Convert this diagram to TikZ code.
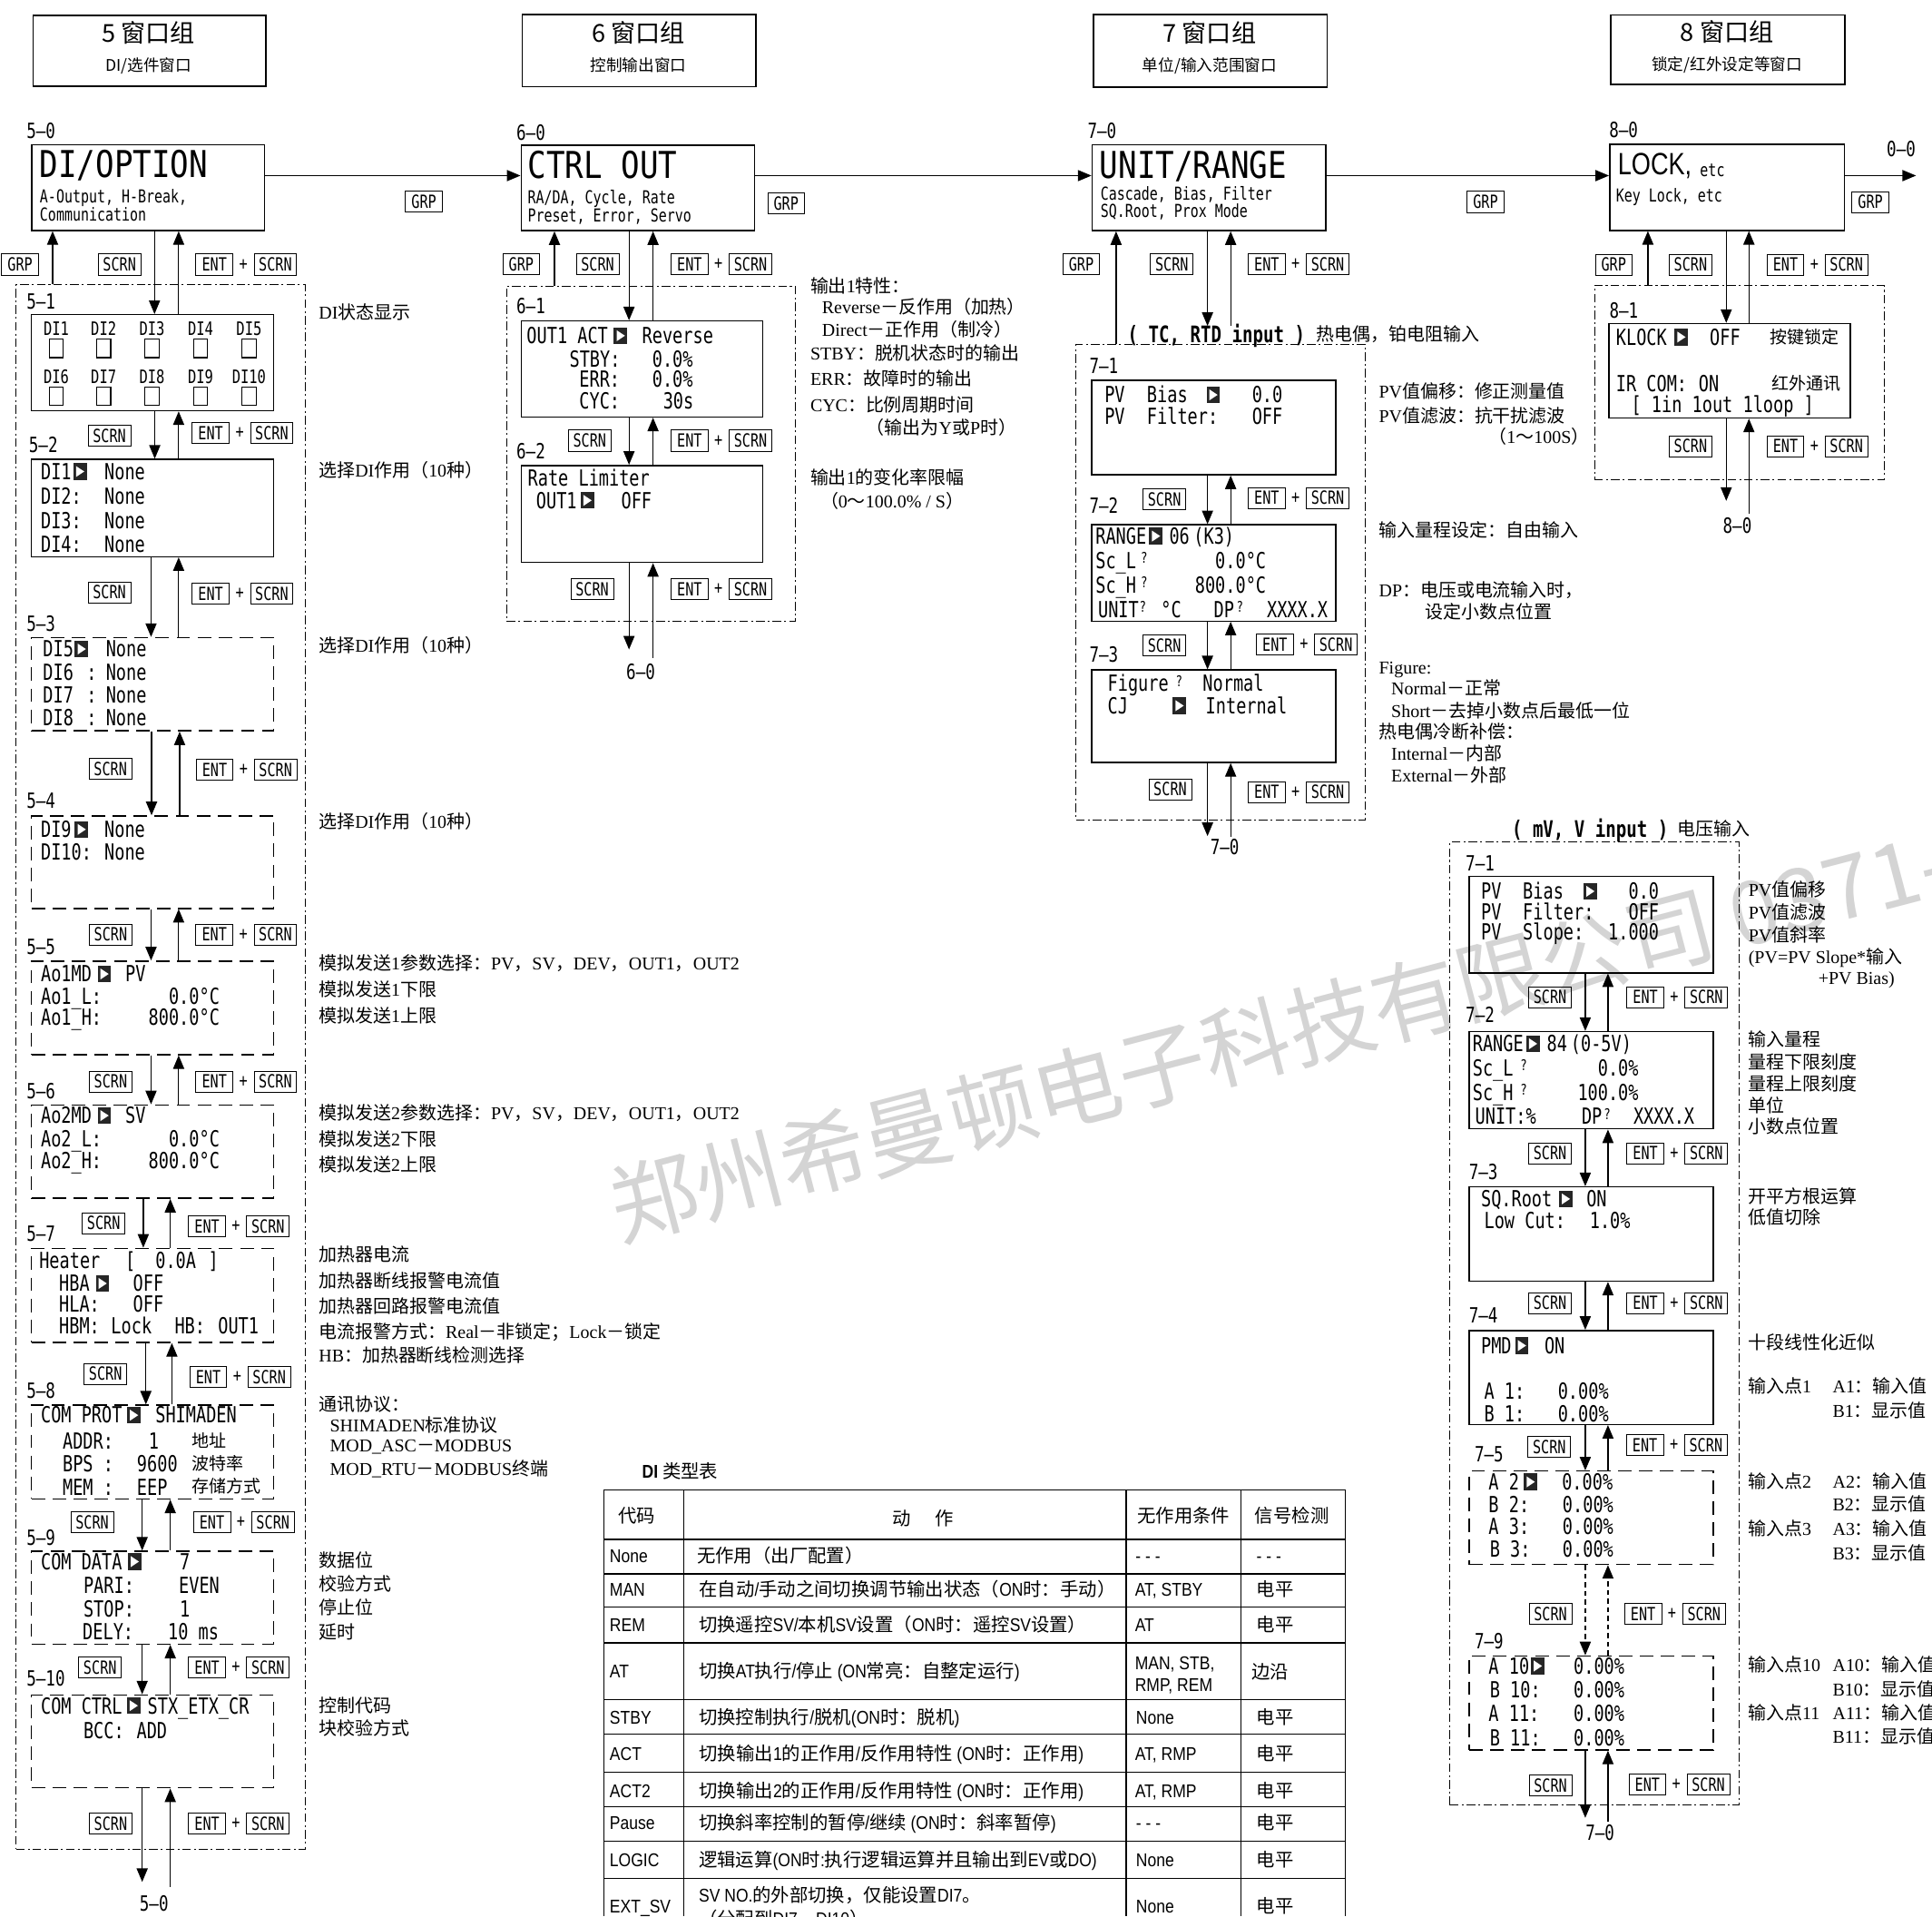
\documentclass[tikz,border=0pt]{standalone}
\usepackage{fontspec}
\usetikzlibrary{arrows.meta,calc}
\newfontfamily\mono[FakeStretch=0.76]{DejaVu Sans Mono}
\newfontfamily\monob[FakeStretch=0.84]{DejaVu Sans Mono}
\newfontfamily\cjk{Noto Sans CJK SC}
\newfontfamily\latf{Liberation Serif}
\newfontfamily\tabl[FakeStretch=0.86]{Liberation Sans}
\newfontfamily\lockf[FakeStretch=0.8]{Liberation Sans}
\newif\ifautosw
\def\curlat{\latf}
\newcommand\swcjk{\ifautosw\cjk\fi}
\newcommand\swlat{\ifautosw\curlat\fi}
\newcount\cc
\cc="3000 \loop\ifnum\cc<"3040 \XeTeXcharclass\cc=5 \advance\cc by 1 \repeat
\cc="4E00 \loop\ifnum\cc<"A000 \XeTeXcharclass\cc=5 \advance\cc by 1 \repeat
\cc="FF00 \loop\ifnum\cc<"FFF0 \XeTeXcharclass\cc=5 \advance\cc by 1 \repeat
\XeTeXinterchartokenstate=1
\XeTeXinterchartoks 0 5 = {\swcjk}
\XeTeXinterchartoks 4095 5 = {\swcjk}
\XeTeXinterchartoks 5 0 = {\swlat}
\XeTeXinterchartoks 4095 0 = {\swlat}

\tikzset{
 xbox/.style={draw,line width=1.1pt,anchor=north west,inner sep=0pt},
 xdbox/.style={xbox,dash pattern=on 11pt off 6pt},
 xcont/.style={draw,line width=0.6pt,dash pattern=on 7pt off 2.5pt on 1.5pt off 2.5pt,anchor=north west,inner sep=0pt},
 xarr/.style={line width=0.9pt,-{Triangle[length=11pt,width=9pt]}},
 xkey/.style={draw,line width=0.6pt,font=\mono\fontsize{14.7}{14.7}\selectfont,inner xsep=3.8pt,inner ysep=0pt,text height=10.7pt,text depth=0pt,minimum height=17pt,minimum width=30pt},
 xplus/.style={inner sep=0pt,font=\mono\fontsize{14.7}{14.7}\selectfont},
 xlcd/.style={anchor=west,inner sep=0pt,font=\mono\fontsize{18}{18}\selectfont,text height=13pt,text depth=0pt},
 xlcdr/.style={xlcd,anchor=east},
 xq/.style={anchor=west,inner sep=0pt,font=\mono\fontsize{12}{12}\selectfont,text height=8.7pt,text depth=0pt},
 xlab/.style={anchor=west,inner sep=0pt,font=\mono\fontsize{17}{17}\selectfont,text height=12.4pt,text depth=0pt},
 xlabc/.style={xlab,anchor=center},
 xdil/.style={anchor=center,inner sep=0pt,font=\mono\fontsize{15}{15}\selectfont,text height=10.9pt,text depth=0pt},
 xsub/.style={anchor=west,inner sep=0pt,font=\mono\fontsize{14.5}{14.5}\selectfont,text height=10.6pt,text depth=0pt},
 xbig/.style={anchor=west,inner sep=0pt,font=\monob\fontsize{30}{30}\selectfont,text height=21.9pt,text depth=0pt},
 xlock/.style={anchor=west,inner sep=0pt,font=\lockf\fontsize{25}{25}\selectfont,text height=17.9pt,text depth=0pt},
 xtc/.style={anchor=west,inner sep=0pt,font=\mono\bfseries\fontsize{18.5}{18.5}\selectfont,text height=13.5pt,text depth=0pt},
 xann/.style={anchor=west,inner sep=0pt,font={\autoswtrue\def\curlat{\latf}\fontsize{14.7}{14.7}\latf},text height=10.5pt,text depth=0pt},
 xcj/.style={anchor=west,inner sep=0pt,font=\cjk\fontsize{14}{14}\selectfont,text height=10pt,text depth=0pt},
 xtab/.style={anchor=west,inner sep=0pt,font={\autoswtrue\def\curlat{\tabl}\fontsize{15}{15}\tabl},text height=10.7pt,text depth=0pt},
 xtabc/.style={xtab,anchor=center},
 xhbox/.style={draw,line width=1.2pt,anchor=north west,inner sep=0pt},
 xhdrt/.style={inner sep=0pt,font=\cjk\fontsize{20}{20}\selectfont,text height=14.5pt,text depth=0pt},
 xhdrs/.style={inner sep=0pt,font=\cjk\fontsize{13}{13}\selectfont,text height=9.5pt,text depth=0pt},
 xsq/.style={draw,line width=0.9pt,minimum width=11.5pt,minimum height=15pt,inner sep=0pt},
 xtri/.style={fill=black!85,minimum width=11pt,minimum height=13.5pt,inner sep=0pt,anchor=west,
   path picture={\fill[white] ([shift={(2.3pt,-2.3pt)}]path picture bounding box.north west) -- ([shift={(2.3pt,2.3pt)}]path picture bounding box.south west) -- ([shift={(-2pt,0pt)}]path picture bounding box.east) -- cycle;}},
 xwm/.style={anchor=west,inner sep=0pt,rotate=14.65,text=black!17,font=\cjk\fontsize{71}{71}\selectfont},
}
\newcounter{nn}
\newcommand\Tn[4][xlcd]{\stepcounter{nn}\node[#1] (n\thenn) at (#2,#3) {#4};}
\newcommand\Mkr[2]{\stepcounter{nn}\node[xtri] (n\thenn) at (#1,#2) {};}
\newcommand\Ky[3]{\stepcounter{nn}\node[xkey] (n\thenn) at (#1,#2) {#3};}
\newcommand\EnS[2]{\Ky{#1}{#2}{ENT}\Tn[xplus]{#1+23.5}{#2}{+}\Ky{#1+49.5}{#2}{SCRN}}
\newcommand\ArD[4][]{\draw[xarr,#1] let \p1=(#2.south),\p2=(#3.north) in (#4pt,\y1) -- (#4pt,\y2);}
\newcommand\ArU[4][]{\draw[xarr,#1] let \p1=(#3.north),\p2=(#2.south) in (#4pt,\y1) -- (#4pt,\y2);}
\newcommand\ArDC[3]{\draw[xarr] let \p1=(#1.south) in (#3pt,\y1) -- (#2);}
\newcommand\ArUC[3]{\draw[xarr] let \p1=(#1.south) in (#2) -- (#3pt,\y1);}

\begin{document}
\begin{tikzpicture}[x=1pt,y=-1pt]
\fill[white] (0,0) rectangle (1568,1555);
\useasboundingbox (0,0) rectangle (1568,1555);
\node[xwm] (wm) at (496,981) {郑州希曼顿电子科技有限公司 0371-};

% ---------- headers
\node[xhbox,minimum width=188.7,minimum height=57.4] (h5) at (26.3,11.8) {};
\Tn[xhdrt]{120.6}{27}{5 窗口组}
\Tn[xhdrs]{120.6}{52.8}{DI/选件窗口}
\node[xhbox,minimum width=189.7,minimum height=58.3] (h6) at (423.3,11.4) {};
\Tn[xhdrt]{518.1}{26.8}{6 窗口组}
\Tn[xhdrs]{518.1}{52.9}{控制输出窗口}
\node[xhbox,minimum width=189.4,minimum height=58.8] (h7) at (887,11.2) {};
\Tn[xhdrt]{981.7}{26.8}{7 窗口组}
\Tn[xhdrs]{981.7}{52.7}{单位/输入范围窗口}
\node[xhbox,minimum width=190,minimum height=56.5] (h8) at (1306.7,11.6) {};
\Tn[xhdrt]{1401.7}{26}{8 窗口组}
\Tn[xhdrs]{1401.7}{52.6}{锁定/红外设定等窗口}

% ---------- main row
\node[xbox,minimum width=189,minimum height=69.7] (b50) at (25.3,116.8) {};
\node[xbox,minimum width=189.6,minimum height=69.3] (b60) at (422.4,117.3) {};
\node[xbox,minimum width=189.7,minimum height=69.6] (b70) at (885.8,117) {};
\node[xbox,minimum width=190.5,minimum height=69.7] (b80) at (1305.8,116.7) {};
\Tn[xlab]{21.4}{106.2}{5–0}
\Tn[xlab]{419}{107.8}{6–0}
\Tn[xlab]{882.5}{106}{7–0}
\Tn[xlab]{1305.8}{105.4}{8–0}
\Tn[xlabc]{1543}{120.7}{0–0}
\Tn[xbig]{32}{133}{DI/OPTION}
\Tn[xsub]{32.2}{159}{A-Output, H-Break,}
\Tn[xsub]{32.2}{174.3}{Communication}
\Tn[xbig]{428.2}{134}{CTRL OUT}
\Tn[xsub]{428.2}{160}{RA/DA, Cycle, Rate}
\Tn[xsub]{428.2}{175}{Preset, Error, Servo}
\Tn[xbig]{892.3}{133.9}{UNIT/RANGE}
\Tn[xsub]{893}{157}{Cascade, Bias, Filter}
\Tn[xsub]{893}{171}{SQ.Root, Prox Mode}
\Tn[xlock]{1312.8}{133}{LOCK,}
\Tn[xsub]{1379.6}{138}{etc}
\Tn[xsub]{1311.4}{158.3}{Key Lock, etc}
\coordinate (o00) at (1555,142.5);
\draw[xarr] let \p1=(b50.east),\p2=(b60.west) in (\x1,-142.5pt) -- (\x2,-142.5pt);
\draw[xarr] let \p1=(b60.east),\p2=(b70.west) in (\x1,-142.5pt) -- (\x2,-142.5pt);
\draw[xarr] let \p1=(b70.east),\p2=(b80.west) in (\x1,-142.5pt) -- (\x2,-142.5pt);
\draw[xarr] let \p1=(b80.east) in (\x1,-142.5pt) -- (o00);
\Ky{344}{163.7}{GRP}
\Ky{638}{165}{GRP}
\Ky{1205.6}{163.8}{GRP}
\Ky{1518}{164}{GRP}

% ---------- column 5
\node[xcont,minimum width=234.6,minimum height=1269.2] (c5) at (12.7,230.8) {};
\Ky{16.3}{214.6}{GRP}\Ky{97}{214.6}{SCRN}\EnS{174}{214.6}
\Tn[xlab]{21.4}{244.5}{5–1}
\node[xbox,minimum width=196.5,minimum height=77.9] (b51) at (25,254.8) {};
\Tn[xdil]{45.7}{266.4}{DI1}\Tn[xdil]{84.1}{266.4}{DI2}\Tn[xdil]{123.4}{266.4}{DI3}\Tn[xdil]{162.8}{266.4}{DI4}\Tn[xdil]{202.1}{266.4}{DI5}
\Tn[xsq]{45.7}{282.6}{}\Tn[xsq]{84.1}{282.6}{}\Tn[xsq]{123.4}{282.6}{}\Tn[xsq]{162.8}{282.6}{}\Tn[xsq]{202.1}{282.6}{}
\Tn[xdil]{45.7}{305.6}{DI6}\Tn[xdil]{84.1}{305.6}{DI7}\Tn[xdil]{123.4}{305.6}{DI8}\Tn[xdil]{162.8}{305.6}{DI9}\Tn[xdil]{202.1}{305.6}{DI10}
\Tn[xsq]{45.7}{321.6}{}\Tn[xsq]{84.1}{321.6}{}\Tn[xsq]{123.4}{321.6}{}\Tn[xsq]{162.8}{321.6}{}\Tn[xsq]{202.1}{321.6}{}

\Tn[xlab]{23.3}{360.6}{5–2}
\node[xbox,minimum width=196.5,minimum height=78.9] (b52) at (25,372.2) {};
\Tn{33}{382.6}{DI1}\Mkr{59.2}{382.6}\Tn{84.6}{382.6}{None}
\Tn{33}{402.7}{DI2:}\Tn{84.6}{402.7}{None}
\Tn{33}{422.5}{DI3:}\Tn{84.6}{422.5}{None}
\Tn{33}{441.8}{DI4:}\Tn{84.6}{441.8}{None}

\Tn[xlab]{21.4}{506}{5–3}
\node[xdbox,minimum width=196.5,minimum height=75.7] (b53) at (25,516.8) {};
\Tn{34.7}{526.6}{DI5}\Mkr{60.5}{526.6}\Tn{85.8}{526.6}{None}
\Tn{34.7}{545.7}{DI6}\Tn{70}{545.7}{:}\Tn{85.8}{545.7}{None}
\Tn{34.7}{563.9}{DI7}\Tn{70}{563.9}{:}\Tn{85.8}{563.9}{None}
\Tn{34.7}{582.6}{DI8}\Tn{70}{582.6}{:}\Tn{85.8}{582.6}{None}

\Tn[xlab]{21.4}{650}{5–4}
\node[xdbox,minimum width=196.5,minimum height=75] (b54) at (25,661.5) {};
\Tn{33}{673}{DI9}\Mkr{60.5}{673}\Tn{84.6}{673}{None}
\Tn{33}{691.6}{DI10:}\Tn{84.6}{691.6}{None}

\Tn[xlab]{21.4}{768.5}{5–5}
\node[xdbox,minimum width=196.5,minimum height=75.9] (b55) at (25,779.3) {};
\Tn{33}{790.3}{Ao1MD}\Mkr{79}{790.3}\Tn{101.5}{790.3}{PV}
\Tn{33}{808.3}{Ao1\_L:}\Tn[xlcdr]{178.4}{808.3}{0.0°C}
\Tn{33}{825.7}{Ao1\_H:}\Tn[xlcdr]{178.4}{825.7}{800.0°C}

\Tn[xlab]{21.4}{885}{5–6}
\node[xdbox,minimum width=196.5,minimum height=75.7] (b56) at (25,896) {};
\Tn{33}{905.2}{Ao2MD}\Mkr{79}{905.2}\Tn{101.5}{905.2}{SV}
\Tn{33}{924.1}{Ao2\_L:}\Tn[xlcdr]{178.4}{924.1}{0.0°C}
\Tn{33}{941.6}{Ao2\_H:}\Tn[xlcdr]{178.4}{941.6}{800.0°C}

\Tn[xlab]{21.4}{1001}{5–7}
\node[xdbox,minimum width=196.5,minimum height=76.3] (b57) at (25,1012.4) {};
\Tn{31.7}{1023.1}{Heater}\Tn{101.5}{1023.1}{[}\Tn{126}{1023.1}{0.0A}\Tn{169}{1023.1}{]}
\Tn{47.8}{1041.4}{HBA}\Mkr{77.5}{1041.4}\Tn{107.8}{1041.4}{OFF}
\Tn{47.8}{1058}{HLA:}\Tn{107.8}{1058}{OFF}
\Tn{47.8}{1075.5}{HBM:}\Tn{90}{1075.5}{Lock}\Tn{141.6}{1075.5}{HB:}\Tn{176.8}{1075.5}{OUT1}

\Tn[xlab]{21.4}{1128}{5–8}
\node[xdbox,minimum width=196.5,minimum height=76.1] (b58) at (25,1139.6) {};
\Tn{33}{1148.3}{COM PROT}\Mkr{103}{1148.3}\Tn{126}{1148.3}{SHIMADEN}
\Tn{50.7}{1169.2}{ADDR:}\Tn{120.5}{1169.2}{1}\Tn[xcj]{155.6}{1169.2}{地址}
\Tn{50.7}{1188}{BPS :}\Tn{111}{1188}{9600}\Tn[xcj]{155.6}{1188}{波特率}
\Tn{50.7}{1206.5}{MEM :}\Tn{111}{1206.5}{EEP}\Tn[xcj]{155.6}{1206.5}{存储方式}

\Tn[xlab]{21.4}{1247.6}{5–9}
\node[xdbox,minimum width=196.5,minimum height=75.4] (b59) at (25,1258.1) {};
\Tn{33}{1267.1}{COM DATA}\Mkr{103.6}{1267.1}\Tn{145.8}{1267.1}{7}
\Tn{67.6}{1286.3}{PARI:}\Tn{145}{1286.3}{EVEN}
\Tn{67.6}{1305.2}{STOP:}\Tn{145.8}{1305.2}{1}
\Tn{67}{1323.6}{DELY:}\Tn{136.1}{1323.6}{10 ms}

\Tn[xlab]{21.4}{1361.8}{5–10}
\node[xdbox,minimum width=196.5,minimum height=75.3] (b510) at (25,1374.8) {};
\Tn{33}{1384}{COM CTRL}\Mkr{102.7}{1384}\Tn{119.6}{1384}{STX\_ETX\_CR}
\Tn{67.6}{1404.1}{BCC:}\Tn{110.7}{1404.1}{ADD}

\Ky{88.8}{353.5}{SCRN}\EnS{171}{351.5}
\Ky{88.8}{480.7}{SCRN}\EnS{171}{481.6}
\Ky{89.6}{623.7}{SCRN}\EnS{174.2}{624.5}
\Ky{89.8}{758.2}{SCRN}\EnS{174}{758.2}
\Ky{89.8}{877.6}{SCRN}\EnS{174}{877.6}
\Ky{84.1}{992.5}{SCRN}\EnS{168}{994.9}
\Ky{85.6}{1114.8}{SCRN}\EnS{169}{1117.1}
\Ky{74.8}{1235.2}{SCRN}\EnS{172}{1235.2}
\Ky{81.2}{1353}{SCRN}\EnS{168}{1353}
\Ky{89.8}{1479.7}{SCRN}\EnS{168}{1479.7}

\ArU{b50}{c5}{42.7}
\ArD{b50}{b51}{125.4}\ArU{b50}{b51}{145}
\ArD{b51}{b52}{125.6}\ArU{b51}{b52}{145}
\ArD{b52}{b53}{122.6}\ArU{b52}{b53}{145}
\ArD{b53}{b54}{123}\ArU{b53}{b54}{145.8}
\ArD{b54}{b55}{122.6}\ArU{b54}{b55}{145}
\ArD{b55}{b56}{122.6}\ArU{b55}{b56}{145}
\ArD{b56}{b57}{116.3}\ArU{b56}{b57}{138.2}
\ArD{b57}{b58}{118.4}\ArU{b57}{b58}{139.5}
\ArD{b58}{b59}{115.4}\ArU{b58}{b59}{138.2}
\ArD{b59}{b510}{115.4}\ArU{b59}{b510}{138.2}
\coordinate (e5d) at (115.4,1527);
\coordinate (e5u) at (138.2,1531);
\ArDC{b510}{e5d}{115.4}\ArUC{b510}{e5u}{138.2}
\Tn[xlabc]{125}{1544.7}{5–0}

\Tn[xann]{258.6}{253.8}{DI状态显示}
\Tn[xann]{258.6}{382}{选择DI作用（10种）}
\Tn[xann]{258.6}{524}{选择DI作用（10种）}
\Tn[xann]{258.6}{667}{选择DI作用（10种）}
\Tn[xann]{258.6}{782}{模拟发送1参数选择：PV，SV，DEV，OUT1，OUT2}
\Tn[xann]{258.6}{803.4}{模拟发送1下限}
\Tn[xann]{258.6}{824.6}{模拟发送1上限}
\Tn[xann]{258.6}{903.2}{模拟发送2参数选择：PV，SV，DEV，OUT1，OUT2}
\Tn[xann]{258.6}{924.2}{模拟发送2下限}
\Tn[xann]{258.6}{945.4}{模拟发送2上限}
\Tn[xann]{258.6}{1018.2}{加热器电流}
\Tn[xann]{258.6}{1039.1}{加热器断线报警电流值}
\Tn[xann]{258.6}{1060}{加热器回路报警电流值}
\Tn[xann]{258.6}{1080.8}{电流报警方式：Real－非锁定；Lock－锁定}
\Tn[xann]{258.6}{1100.2}{HB：加热器断线检测选择}
\Tn[xann]{258.6}{1139.5}{通讯协议：}
\Tn[xann]{267.6}{1156.5}{SHIMADEN标准协议}
\Tn[xann]{267.6}{1173}{MOD\_ASC－MODBUS}
\Tn[xann]{267.6}{1191.8}{MOD\_RTU－MODBUS终端}
\Tn[xann]{258.6}{1266.1}{数据位}
\Tn[xann]{258.6}{1285.5}{校验方式}
\Tn[xann]{258.6}{1304.7}{停止位}
\Tn[xann]{258.6}{1324.3}{延时}
\Tn[xann]{258.6}{1384}{控制代码}
\Tn[xann]{258.6}{1402.9}{块校验方式}

% ---------- column 6
\node[xcont,minimum width=234.1,minimum height=272.3] (c6) at (410.8,231.7) {};
\Ky{423}{214.5}{GRP}\Ky{485}{214.5}{SCRN}\EnS{559.6}{214.5}
\Tn[xlab]{419}{248.4}{6–1}
\node[xbox,minimum width=196.2,minimum height=77.9] (b61) at (422.4,259.9) {};
\Tn{427.3}{272.4}{OUT1 ACT}\Mkr{498}{272.4}\Tn{521}{272.4}{Reverse}
\Tn{462}{291.3}{STBY:}\Tn{529.2}{291.3}{0.0\%}
\Tn{470}{307.4}{ERR:}\Tn{529.2}{307.4}{0.0\%}
\Tn{470}{325.3}{CYC:}\Tn{538}{325.3}{30s}
\Tn[xlab]{419}{366.4}{6–2}
\node[xbox,minimum width=196.2,minimum height=78.7] (b62) at (422.4,377.1) {};
\Tn{428.2}{387.9}{Rate Limiter}
\Tn{435}{406}{OUT1}\Mkr{471}{406}\Tn{504}{406}{OFF}
\Ky{478.6}{357.5}{SCRN}\EnS{559.6}{357.5}
\Ky{480.6}{478}{SCRN}\EnS{559.6}{478}
\ArU{b60}{c6}{450}
\ArD{b60}{b61}{510.5}\ArU{b60}{b61}{530}
\ArD{b61}{b62}{510.5}\ArU{b61}{b62}{530}
\coordinate (e6d) at (510.5,527);
\coordinate (e6u) at (530,534);
\ArDC{b62}{e6d}{510.5}\ArUC{b62}{e6u}{530}
\Tn[xlabc]{520}{545}{6–0}
\Tn[xann]{657.5}{232.4}{输出1特性：}
\Tn[xann]{667}{249.5}{Reverse－反作用（加热）}
\Tn[xann]{667}{267.4}{Direct－正作用（制冷）}
\Tn[xann]{657.5}{287}{STBY：脱机状态时的输出}
\Tn[xann]{657.5}{307.5}{ERR：故障时的输出}
\Tn[xann]{657.5}{329}{CYC：比例周期时间}
\Tn[xann]{703}{346.8}{（输出为Y或P时）}
\Tn[xann]{657.5}{388}{输出1的变化率限幅}
\Tn[xann]{665.6}{406.5}{（0～100.0\% / S）}

% ---------- column 7 (TC, RTD)
\node[xcont,minimum width=235,minimum height=386] (c7) at (873,279) {};
\Ky{877.5}{214.5}{GRP}\Ky{951}{214.5}{SCRN}\EnS{1028}{214.5}
\node[xtc] (tclab) at (915,271.4) {( TC, RTD input )};
\Tn[xann]{1068}{271.4}{热电偶，铂电阻输入}
\Tn[xlab]{884}{296.8}{7–1}
\node[xbox,minimum width=198,minimum height=76.7] (b71) at (885.5,308) {};
\Tn{896.3}{320.4}{PV}\Tn{930.7}{320.4}{Bias}\Mkr{979}{320.4}\Tn{1016}{320.4}{0.0}
\Tn{896.3}{338}{PV}\Tn{930.7}{338}{Filter:}\Tn{1016}{338}{OFF}
\Tn[xlab]{884}{410.6}{7–2}
\node[xbox,minimum width=198,minimum height=78.1] (b72) at (885.5,425.3) {};
\Tn{889}{435}{RANGE}\Mkr{932.4}{435}\Tn{948.8}{435}{06}\Tn{968.6}{435}{(K3)}
\Tn{889}{455}{Sc\_L}\Tn[xq]{925.7}{453}{?}\Tn[xlcdr]{1027.7}{455}{0.0°C}
\Tn{889}{474.5}{Sc\_H}\Tn[xq]{925.7}{472.5}{?}\Tn[xlcdr]{1027.7}{474.5}{800.0°C}
\Tn{891}{494.5}{UNIT}\Tn[xq]{924.5}{492.5}{?}\Tn{942}{494.5}{°C}\Tn{985}{494.5}{DP}\Tn[xq]{1003.4}{492.5}{?}\Tn{1028}{494.5}{XXXX.X}
\Tn[xlab]{884}{531}{7–3}
\node[xbox,minimum width=198,minimum height=75] (b73) at (885.5,543.1) {};
\Tn{898.8}{554.6}{Figure}\Tn[xq]{954}{552.6}{?}\Tn{976}{554.6}{Normal}
\Tn{898.8}{572.6}{CJ}\Mkr{951.5}{572.6}\Tn{978.4}{572.6}{Internal}
\Ky{945}{405}{SCRN}\EnS{1028}{404}
\Ky{945}{523.5}{SCRN}\EnS{1034.7}{523}
\Ky{949.7}{640.5}{SCRN}\EnS{1028}{642.7}
\ArU{b70}{c7}{905.8}
\ArD{b70}{tclab}{980}\ArU{b70}{tclab}{998.8}
\ArD{b71}{b72}{980}\ArU{b71}{b72}{998.8}
\ArD{b72}{b73}{980}\ArU{b72}{b73}{998.8}
\coordinate (e7d) at (980,678.4);
\coordinate (e7u) at (998.8,679);
\ArDC{b73}{e7d}{980}\ArUC{b73}{e7u}{998.8}
\Tn[xlabc]{994}{687}{7–0}
\Tn[xann]{1119}{317.8}{PV值偏移：修正测量值}
\Tn[xann]{1119}{337.4}{PV值滤波：抗干扰滤波}
\Tn[xann]{1208}{354.8}{（1～100S）}
\Tn[xann]{1119}{430.7}{输入量程设定：自由输入}
\Tn[xann]{1119}{478.8}{DP：电压或电流输入时，}
\Tn[xann]{1156.6}{496.8}{设定小数点位置}
\Tn[xann]{1119}{541.4}{Figure:}
\Tn[xann]{1129}{558.8}{Normal－正常}
\Tn[xann]{1129}{576.7}{Short－去掉小数点后最低一位}
\Tn[xann]{1119}{593.6}{热电偶冷断补偿：}
\Tn[xann]{1129}{611.3}{Internal－内部}
\Tn[xann]{1129}{629.3}{External－外部}

% ---------- column 8
\node[xcont,minimum width=235,minimum height=157.7] (c8) at (1293.7,231.3) {};
\Ky{1309.7}{214.8}{GRP}\Ky{1372}{214.8}{SCRN}\EnS{1449}{214.8}
\Tn[xlab]{1306}{252}{8–1}
\node[xbox,minimum width=195.7,minimum height=76.6] (b81) at (1305.3,262) {};
\Tn{1311.4}{273.5}{KLOCK}\Mkr{1358.8}{273.5}\Tn{1387.5}{273.5}{OFF}\Tn[xcj]{1436}{273.5}{按键锁定}
\Tn{1311.4}{311}{IR COM:}\Tn{1378.4}{311}{ON}\Tn[xcj]{1438}{311}{红外通讯}
\Tn{1323.7}{328.5}{[ 1in 1out 1loop ]}
\Ky{1372}{362}{SCRN}\EnS{1449}{362}
\ArU{b80}{c8}{1337.4}
\ArD{b80}{b81}{1401}\ArU{b80}{b81}{1419.4}
\coordinate (e8d) at (1401,406.4);
\coordinate (e8u) at (1419.4,417);
\ArDC{b81}{e8d}{1401}\ArUC{b81}{e8u}{1419.4}
\Tn[xlabc]{1410}{426.3}{8–0}

% ---------- mV, V input
\node[xcont,minimum width=234.5,minimum height=781.5] (cm) at (1176.5,683) {};
\node[xtc] (mvlab) at (1226.8,672.8) {( mV, V input )};
\Tn[xann]{1361}{672.8}{电压输入}
\Tn[xlab]{1189.4}{700.5}{7–1}
\node[xbox,minimum width=198,minimum height=78.1] (bm1) at (1192,710.7) {};
\Tn{1201.8}{723.2}{PV}\Tn{1235.8}{723.2}{Bias}\Mkr{1284.9}{723.2}\Tn{1321.5}{723.2}{0.0}
\Tn{1201.8}{739.8}{PV}\Tn{1235.8}{739.8}{Filter:}\Tn{1321.5}{739.8}{OFF}
\Tn{1201.8}{755.8}{PV}\Tn{1235.8}{755.8}{Slope:}\Tn{1305}{755.8}{1.000}
\Tn[xlab]{1189.4}{823.7}{7–2}
\node[xbox,minimum width=198,minimum height=78.9] (bm2) at (1192,836.5) {};
\Tn{1195}{846.9}{RANGE}\Mkr{1238.4}{846.9}\Tn{1255.2}{846.9}{84}\Tn{1274.6}{846.9}{(0-5V)}
\Tn{1195}{866.4}{Sc\_L}\Tn[xq]{1233.7}{864.4}{?}\Tn[xlcdr]{1330}{866.4}{0.0\%}
\Tn{1195}{886.2}{Sc\_H}\Tn[xq]{1233.7}{884.2}{?}\Tn[xlcdr]{1330}{886.2}{100.0\%}
\Tn{1197.1}{905.9}{UNIT:\%}\Tn{1283.5}{905.9}{DP}\Tn[xq]{1301.5}{903.9}{?}\Tn{1325.5}{905.9}{XXXX.X}
\Tn[xlab]{1192}{950.8}{7–3}
\node[xbox,minimum width=198,minimum height=76.5] (bm3) at (1192,962.5) {};
\Tn{1201.8}{972.8}{SQ.Root}\Mkr{1265}{972.8}\Tn{1287.4}{972.8}{ON}
\Tn{1204.4}{990.3}{Low Cut:}\Tn{1290}{990.3}{1.0\%}
\Tn[xlab]{1192}{1067.4}{7–4}
\node[xbox,minimum width=198,minimum height=76.2] (bm4) at (1192,1079) {};
\Tn{1201.8}{1091.8}{PMD}\Mkr{1229.4}{1091.8}\Tn{1253.3}{1091.8}{ON}
\Tn{1204.4}{1129}{A 1:}\Tn{1264.2}{1129}{0.00\%}
\Tn{1204.4}{1147.1}{B 1:}\Tn{1264.2}{1147.1}{0.00\%}
\Tn[xlab]{1196.6}{1180}{7–5}
\node[xdbox,minimum width=198,minimum height=75.7] (bm5) at (1192,1193.1) {};
\Tn{1208}{1202.4}{A 2}\Mkr{1236.5}{1202.4}\Tn{1267.5}{1202.4}{0.00\%}
\Tn{1208}{1220.8}{B 2:}\Tn{1268}{1220.8}{0.00\%}
\Tn{1208}{1238.2}{A 3:}\Tn{1268}{1238.2}{0.00\%}
\Tn{1209}{1256.6}{B 3:}\Tn{1268}{1256.6}{0.00\%}
\Tn[xlab]{1196.6}{1331.4}{7–9}
\node[xdbox,minimum width=198,minimum height=76.3] (bm9) at (1192,1343.1) {};
\Tn{1208}{1351.8}{A 10}\Mkr{1242.3}{1351.8}\Tn{1277}{1351.8}{0.00\%}
\Tn{1209}{1371.3}{B 10:}\Tn{1277}{1371.3}{0.00\%}
\Tn{1208}{1390.5}{A 11:}\Tn{1277}{1390.5}{0.00\%}
\Tn{1209}{1410.1}{B 11:}\Tn{1277}{1410.1}{0.00\%}
\Ky{1258}{809}{SCRN}\EnS{1335.3}{809}
\Ky{1258}{935.8}{SCRN}\EnS{1335.3}{935.8}
\Ky{1258}{1057.2}{SCRN}\EnS{1335.3}{1057.2}
\Ky{1257.4}{1174.2}{SCRN}\EnS{1335}{1172.7}
\Ky{1258.3}{1309.6}{SCRN}\EnS{1333.5}{1309.6}
\Ky{1258.3}{1448.8}{SCRN}\EnS{1337}{1447.9}
\ArD{bm1}{bm2}{1286.6}\ArU{bm1}{bm2}{1305}
\ArD{bm2}{bm3}{1286.6}\ArU{bm2}{bm3}{1305}
\ArD{bm3}{bm4}{1286.6}\ArU{bm3}{bm4}{1305}
\ArD{bm4}{bm5}{1286.6}\ArU{bm4}{bm5}{1305}
\ArD[dash pattern=on 4pt off 3pt]{bm5}{bm9}{1286.6}\ArU[dash pattern=on 4pt off 3pt]{bm5}{bm9}{1305}
\coordinate (emd) at (1286.6,1475);
\coordinate (emu) at (1305,1478);
\ArDC{bm9}{emd}{1286.6}\ArUC{bm9}{emu}{1305}
\Tn[xlabc]{1298.5}{1487.2}{7–0}
\Tn[xann]{1418.9}{722.3}{PV值偏移}
\Tn[xann]{1418.9}{740.7}{PV值滤波}
\Tn[xann]{1418.9}{758.7}{PV值斜率}
\Tn[xann]{1418.9}{776.2}{(PV=PV Slope*输入}
\Tn[xann]{1475.6}{793.7}{+PV Bias)}
\Tn[xann]{1418.9}{843.2}{输入量程}
\Tn[xann]{1418.9}{862.1}{量程下限刻度}
\Tn[xann]{1418.9}{879.6}{量程上限刻度}
\Tn[xann]{1418.9}{897}{单位}
\Tn[xann]{1418.9}{914.5}{小数点位置}
\Tn[xann]{1418.9}{971.3}{开平方根运算}
\Tn[xann]{1418.9}{988.2}{低值切除}
\Tn[xann]{1418.9}{1089.8}{十段线性化近似}
\Tn[xann]{1418.5}{1124.6}{输入点1}\Tn[xann]{1487.2}{1124.6}{A1：输入值}
\Tn[xann]{1487.2}{1145}{B1：显示值}
\Tn[xann]{1418.5}{1201.9}{输入点2}\Tn[xann]{1487.2}{1202}{A2：输入值}
\Tn[xann]{1487.2}{1220.8}{B2：显示值}
\Tn[xann]{1418.5}{1240.2}{输入点3}\Tn[xann]{1487.2}{1240.2}{A3：输入值}
\Tn[xann]{1487.2}{1260.1}{B3：显示值}
\Tn[xann]{1418.5}{1350.9}{输入点10}\Tn[xann]{1487.2}{1350.9}{A10：输入值}
\Tn[xann]{1487.2}{1370.7}{B10：显示值}
\Tn[xann]{1418.5}{1389.7}{输入点11}\Tn[xann]{1487.2}{1389.7}{A11：输入值}
\Tn[xann]{1487.2}{1409.2}{B11：显示值}

% ---------- DI table
\Tn[xtab]{521}{1194}{{\bfseries DI} 类型表}
\foreach \yy in {1209,1249,1277,1304,1333,1379,1407,1438,1466,1494,1524}
  \draw[line width=0.9pt] (490,\yy) -- (1092,\yy);
\foreach \xx in {490,555,914,1007,1092}
  \draw[line width=0.9pt] (\xx,1209) -- (\xx,1555);
\Tn[xtabc]{516.6}{1230}{代码}
\Tn[xtabc]{749}{1232}{动\hspace{20pt}作}
\Tn[xtabc]{960.6}{1230}{无作用条件}
\Tn[xtabc]{1048.5}{1230}{信号检测}
\Tn[xtab]{494.7}{1262.2}{None}\Tn[xtab]{565.6}{1262.2}{无作用（出厂配置）}\Tn[xtab]{921.5}{1262.2}{- - -}\Tn[xtab]{1019.6}{1262.2}{- - -}
\Tn[xtab]{494.7}{1289.7}{MAN}\Tn[xtab]{567.3}{1289.7}{在自动/手动之间切换调节输出状态（ON时：手动）}\Tn[xtab]{921}{1289.7}{AT, STBY}\Tn[xtab]{1019.6}{1289.7}{电平}
\Tn[xtab]{494.7}{1318.4}{REM}\Tn[xtab]{567}{1318.4}{切换遥控SV/本机SV设置（ON时：遥控SV设置）}\Tn[xtab]{921}{1318.4}{AT}\Tn[xtab]{1019.6}{1318.4}{电平}
\Tn[xtab]{494.7}{1355.8}{AT}\Tn[xtab]{567}{1355.8}{切换AT执行/停止 (ON常亮：自整定运行)}\Tn[xtab]{921}{1349.5}{MAN, STB,}\Tn[xtab]{921}{1367}{RMP, REM}\Tn[xtab]{1015.6}{1357}{边沿}
\Tn[xtab]{494.7}{1393.3}{STBY}\Tn[xtab]{567}{1393.3}{切换控制执行/脱机(ON时：脱机)}\Tn[xtab]{921.8}{1393.3}{None}\Tn[xtab]{1019.6}{1393.3}{电平}
\Tn[xtab]{494.7}{1422.8}{ACT}\Tn[xtab]{567.3}{1422.8}{切换输出1的正作用/反作用特性 (ON时：正作用)}\Tn[xtab]{921}{1422.8}{AT, RMP}\Tn[xtab]{1019.6}{1422.8}{电平}
\Tn[xtab]{494.7}{1453.3}{ACT2}\Tn[xtab]{567.3}{1453.3}{切换输出2的正作用/反作用特性 (ON时：正作用)}\Tn[xtab]{921}{1453.3}{AT, RMP}\Tn[xtab]{1019.6}{1453.3}{电平}
\Tn[xtab]{494.7}{1479.4}{Pause}\Tn[xtab]{567}{1479.4}{切换斜率控制的暂停/继续 (ON时：斜率暂停)}\Tn[xtab]{921.8}{1479.4}{- - -}\Tn[xtab]{1019.6}{1479.4}{电平}
\Tn[xtab]{494.7}{1509.4}{LOGIC}\Tn[xtab]{567}{1509.4}{逻辑运算(ON时:执行逻辑运算并且输出到EV或DO)}\Tn[xtab]{921.8}{1509.4}{None}\Tn[xtab]{1019.6}{1509.4}{电平}
\Tn[xtab]{494.7}{1546.6}{EXT\_SV}\Tn[xtab]{567}{1538}{SV NO.的外部切换，仅能设置DI7。}\Tn[xtab]{567}{1557}{（分配到DI7、DI10）}\Tn[xtab]{921.8}{1546.6}{None}\Tn[xtab]{1019.6}{1546.6}{电平}
\end{tikzpicture}
\end{document}
